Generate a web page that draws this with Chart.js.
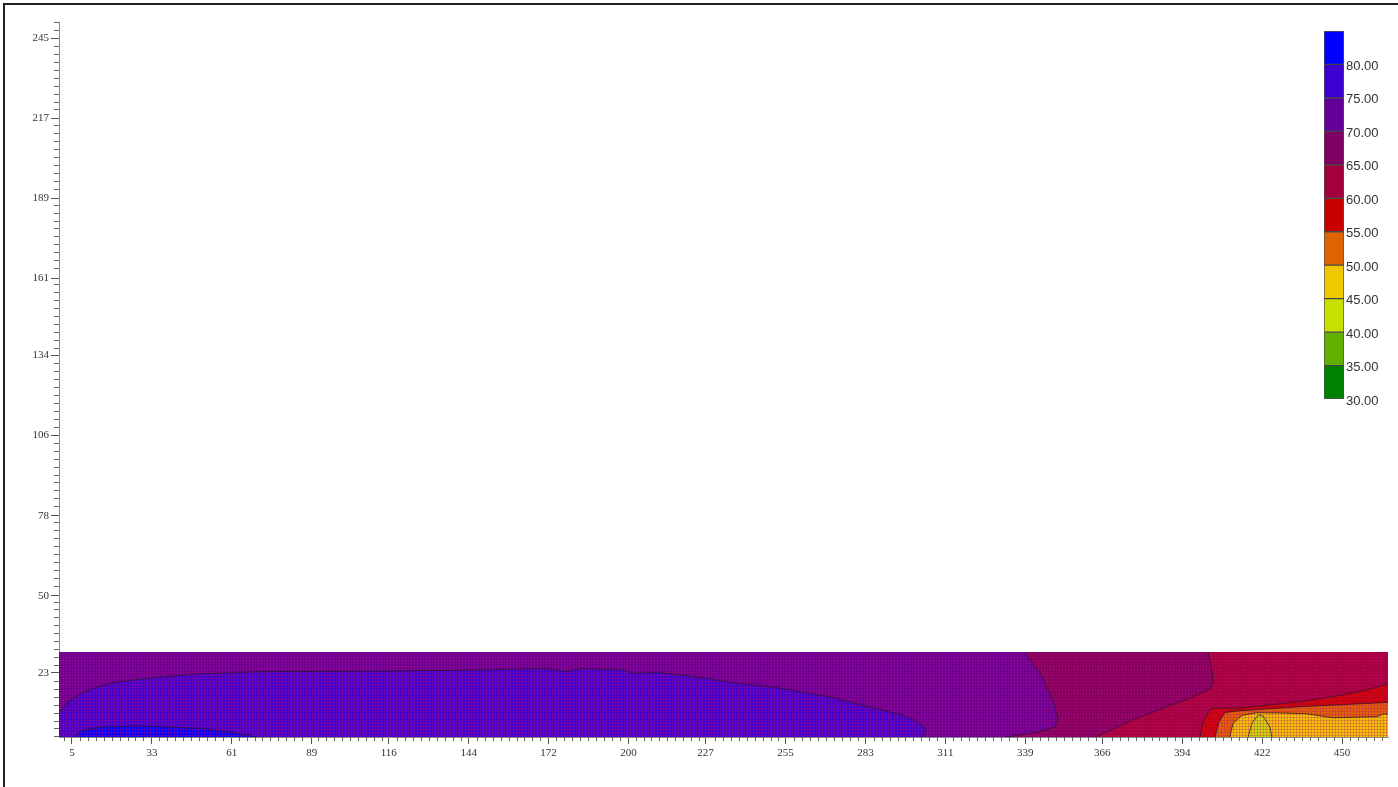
<!DOCTYPE html>
<html>
<head>
<meta charset="utf-8">
<script src="https://cdn.jsdelivr.net/npm/chart.js@4.4.0/dist/chart.umd.min.js"></script>
<style>
  html, body { margin: 0; padding: 0; background: #fff; overflow: hidden; }
  #frame { position: absolute; left: 3px; top: 3px; width: 1400px; height: 790px; border-top: 2px solid #222; border-left: 2px solid #222; }
  #plot { position: absolute; left: 0; top: 0; width: 1398px; height: 787px; }
  #scale { position: absolute; left: 1300px; top: 20px; width: 98px; height: 400px; }
</style>
</head>
<body>
<div id="frame"></div>
<canvas id="plot" width="1398" height="787"></canvas>
<canvas id="scale" width="98" height="400"></canvas>
<script>
// axis tick labels
const xTicks = [5, 33, 61, 89, 116, 144, 172, 200, 227, 255, 283, 311, 339, 366, 394, 422, 450];
const yTicks = [23, 50, 78, 106, 134, 161, 189, 217, 245];

// contour levels and their colours (30-35 ... 80-85)
const levels = [30, 35, 40, 45, 50, 55, 60, 65, 70, 75, 80, 85];
const levelColors = ['#008000', '#64b000', '#c8e000', '#f0c800', '#dd6400', '#c80000',
                     '#a3003c', '#800062', '#640099', '#3c00d2', '#0000ff'];

// extent of the measured grid
const xMin = 0.45, xMax = 466.1, yMin = 0.6, yMax = 30.3;
const yAxisMax = 250.6;

// contour boundaries as [x, y]
const edge80 = [[5.4,0.6],[8.4,2.8],[14.8,4.1],[28.8,4.5],[49.8,3.6],[61.4,2.1],[69.8,0.6]];
const edge75 = [[0.45,9.0],[3.6,12.9],[8.4,15.9],[14.2,18.2],[20.1,19.7],[27.1,20.6],[33.4,21.3],
                [49.8,22.7],[73.2,23.5],[88.4,23.5],[128,23.8],[148,24.0],[170,24.6],[178.4,23.5],
                [184.1,24.6],[198.1,24.0],[201.6,22.9],[210,23.2],[218,22.3],[227.5,21.1],[235.5,19.7],
                [253.1,17.7],[270.6,14.6],[284.6,11.0],[295,8.6],[300.4,6.4],[304.4,3.3],[303,0.6]];
const edge70 = [[338.9,30.3],[341.5,26.5],[344.2,23.0],[348.7,13.5],[350.5,6.6],[349.4,4.1],
                [344.2,2.5],[337.2,1.3],[331.9,0.6]];
const edge65 = [[403.0,30.3],[404.4,24.0],[404.8,19.5],[403.7,17.4],[397.8,14.7],[388.7,11.2],
                [376.8,6.6],[365.2,1.3],[363.5,0.6]];
const edge60 = [[400.2,0.6],[401.3,5.9],[403.7,10.1],[404.8,10.7],[414.3,10.7],[435.3,13.0],
                [446.8,14.7],[458.8,17.1],[466.1,19.2]];
const edge55 = [[405.5,0.6],[406.9,5.9],[409.0,9.2],[414.3,9.8],[435.3,11.2],[466.1,12.7]];
const edge50 = [[410.7,0.6],[411.8,5.4],[414.8,8.1],[420.1,9.1],[428.3,9.0],[437.7,8.7],
                [446.8,7.3],[462.2,7.7],[464.4,8.6],[466.1,8.6]];
const edge45 = [[417.1,0.6],[418.4,5.4],[420.7,8.4],[422.3,7.9],[424.7,4.2],[425.4,0.6]];

const plotCanvas = document.getElementById('plot');
const plotCtx = plotCanvas.getContext('2d');

// small mesh texture like the grid of the original surface
function meshFill(color) {
    const c = document.createElement('canvas');
    c.width = 3; c.height = 3;
    const g = c.getContext('2d');
    g.fillStyle = color;
    g.fillRect(0, 0, 3, 3);
    g.fillStyle = 'rgba(200, 10, 110, 0.36)';
    g.fillRect(0, 0, 3, 1);
    g.fillRect(0, 1, 1, 2);
    return plotCtx.createPattern(c, 'repeat');
}

const pts = arr => arr.map(p => ({ x: p[0], y: p[1] }));

// filled regions, bottom layer first: [polygon, level index]
const regions = [
    [[[xMin, yMin], [xMax, yMin], [xMax, yMax], [xMin, yMax]], 8],
    [[[xMin, yMin], ...edge75], 9],
    [edge80, 10],
    [[...edge70, [xMax, yMin], [xMax, yMax]], 7],
    [[...edge65, [xMax, yMin], [xMax, yMax]], 6],
    [[...edge60, [xMax, yMin]], 5],
    [[...edge55, [xMax, yMin]], 4],
    [[...edge50, [xMax, yMin]], 3],
    [edge45, 2]
];
const contourLines = [edge80, edge75, edge70, edge65, edge60, edge55, edge50, edge45];

const datasets = [];
regions.forEach(function (r, i) {
    datasets.push({
        data: pts(r[0]),
        backgroundColor: meshFill(levelColors[r[1]]),
        borderWidth: 0,
        fill: 'shape',
        pointRadius: 0,
        order: 100 - i
    });
});
contourLines.forEach(function (e) {
    datasets.push({
        data: pts(e),
        borderColor: 'rgba(45, 20, 45, 0.75)',
        borderWidth: 1,
        fill: false,
        pointRadius: 0,
        order: 0
    });
});

function minorValues(first, step, min, max) {
    const out = [];
    for (let k = -20; k < 400; k++) {
        const v = first + k * step;
        if (v < min || v > max) continue;
        if (k % 10 === 0) continue;
        out.push(v);
    }
    return out;
}

const minorTicks = {
    id: 'minorTicks',
    afterDraw(chart) {
        const { ctx } = chart;
        const xs = chart.scales.x, ys = chart.scales.y;
        const xStep = (xTicks[xTicks.length - 1] - xTicks[0]) / (xTicks.length - 1) / 10;
        const yStep = (yTicks[yTicks.length - 1] - yTicks[0]) / (yTicks.length - 1) / 10;
        ctx.save();
        ctx.strokeStyle = '#666';
        ctx.lineWidth = 1;
        ctx.beginPath();
        minorValues(xTicks[0], xStep, xMin, xMax).forEach(function (v) {
            const px = Math.round(xs.getPixelForValue(v)) + 0.5;
            ctx.moveTo(px, xs.top);
            ctx.lineTo(px, xs.top + 4);
        });
        minorValues(yTicks[0], yStep, yMin, yAxisMax).forEach(function (v) {
            const py = Math.round(ys.getPixelForValue(v)) + 0.5;
            ctx.moveTo(ys.right - 5, py);
            ctx.lineTo(ys.right, py);
        });
        ctx.stroke();
        ctx.restore();
    }
};

const tickFont = { family: 'Liberation Serif', size: 11 };

new Chart(plotCanvas, {
    type: 'line',
    data: { datasets: datasets },
    options: {
        responsive: false,
        animation: false,
        events: [],
        layout: { padding: { left: 0, top: 22, right: 10, bottom: 0 } },
        plugins: { legend: { display: false }, tooltip: { enabled: false } },
        scales: {
            x: {
                type: 'linear',
                min: xMin,
                max: xMax,
                afterBuildTicks: s => { s.ticks = xTicks.map(v => ({ value: v })); },
                afterFit: s => { s.height = 50; },
                ticks: { font: tickFont, color: '#333', padding: 3, maxRotation: 0, autoSkip: false, callback: v => String(v) },
                grid: { drawOnChartArea: false, tickLength: 7, tickColor: '#555' },
                border: { color: '#8a8a8a', width: 1 }
            },
            y: {
                type: 'linear',
                min: yMin,
                max: yAxisMax,
                afterBuildTicks: s => { s.ticks = yTicks.map(v => ({ value: v })); },
                afterFit: s => { s.width = 59; },
                ticks: { font: tickFont, color: '#333', padding: 2, autoSkip: false, callback: v => String(v) },
                grid: { drawOnChartArea: false, tickLength: 8, tickColor: '#555' },
                border: { color: '#8a8a8a', width: 1 }
            }
        }
    },
    plugins: [minorTicks]
});

// colour scale
new Chart(document.getElementById('scale'), {
    type: 'bar',
    data: {
        labels: [''],
        datasets: levelColors.map((c, i) => ({
            data: [[levels[i], levels[i + 1]]],
            backgroundColor: c,
            borderColor: 'rgba(50, 50, 50, 0.85)',
            borderWidth: 1,
            borderSkipped: false,
            barThickness: 20,
            grouped: false
        }))
    },
    options: {
        responsive: false,
        animation: false,
        events: [],
        layout: { padding: { left: 24, top: 11, bottom: 21, right: 0 } },
        plugins: { legend: { display: false }, tooltip: { enabled: false } },
        scales: {
            x: { display: false },
            y: {
                position: 'right',
                min: 30,
                max: 85,
                afterBuildTicks: s => { s.ticks = levels.slice(0, -1).map(v => ({ value: v })); },
                afterFit: s => { s.width = 54; },
                ticks: { callback: v => v.toFixed(2), font: { family: 'Liberation Sans', size: 13 }, color: '#333', padding: 2, labelOffset: 2 },
                grid: { display: false, drawTicks: false },
                border: { display: false }
            }
        }
    }
});
</script>
</body>
</html>
